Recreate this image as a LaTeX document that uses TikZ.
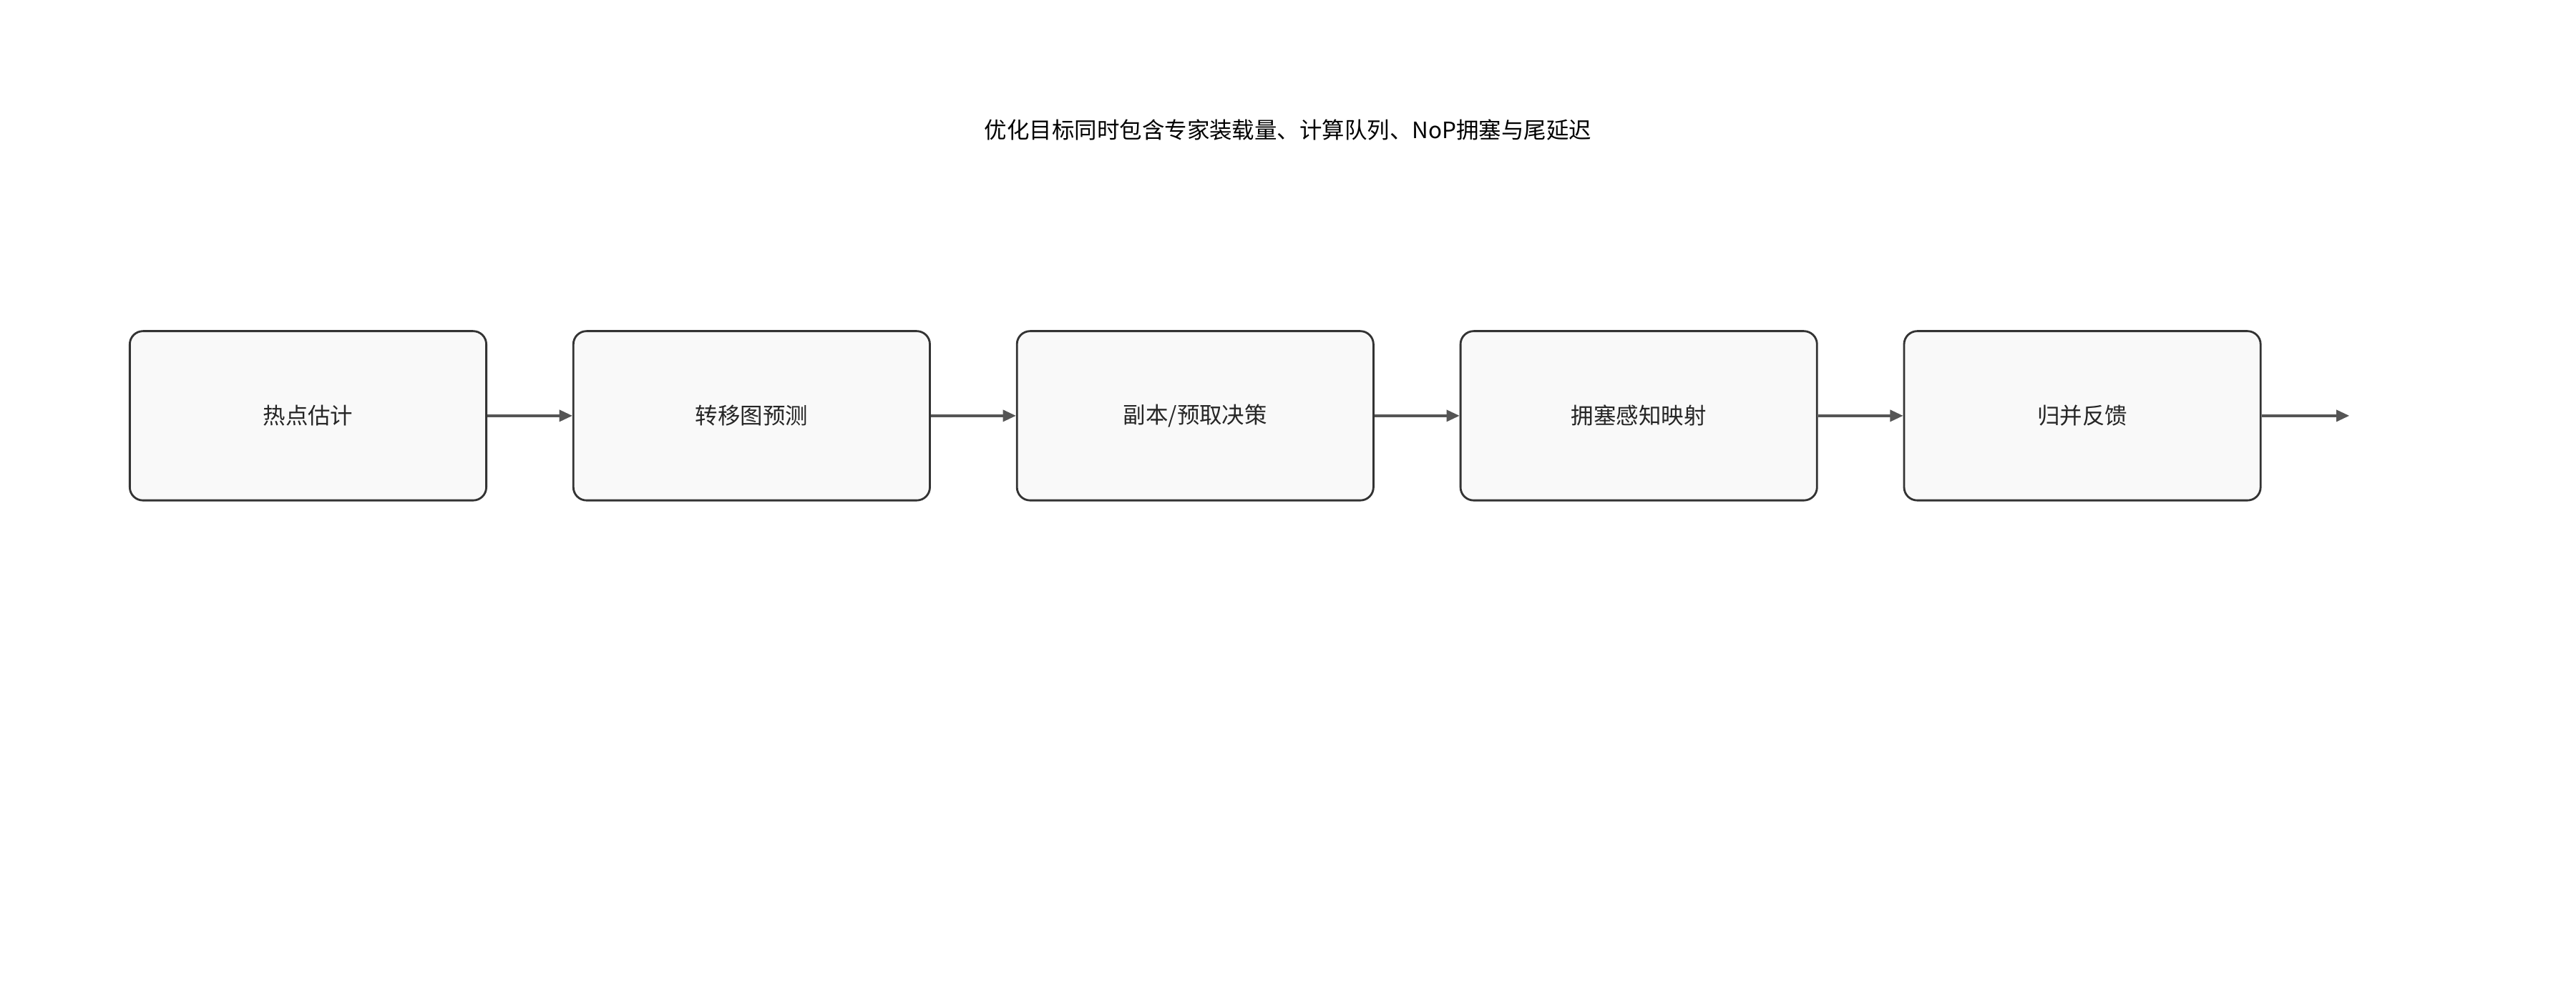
\documentclass[tikz,border=0pt]{standalone}
\usepackage{fontspec}
\setmainfont{Noto Sans CJK SC}
\usetikzlibrary{arrows.meta}
\definecolor{boxfill}{HTML}{F9F9F9}
\definecolor{boxline}{HTML}{333333}
\definecolor{arr}{HTML}{555555}
\begin{document}
\begin{tikzpicture}[x=0.02cm,y=-0.02cm,
  box/.style={draw=boxline,fill=boxfill,line width=0.7pt,rounded corners=0.16cm,minimum width=217*0.02cm,minimum height=103*0.02cm,inner sep=0pt,font=\fontsize{7.8pt}{9pt}\selectfont,text=black!85},
  conn/.style={draw=arr,line width=0.8pt,-{Triangle[length=4.5pt,width=4pt]}}]
\useasboundingbox (0,0) rectangle (1568,609.7);
\node[font=\fontsize{7.8pt}{9pt}\selectfont] (title) at (784,79) {优化目标同时包含专家装载量、计算队列、NoP拥塞与尾延迟};
\node[box] (a) at (187.5,253) {热点估计};
\node[box] (b) at (457.5,253) {转移图预测};
\node[box] (c) at (727.5,253) {副本/预取决策};
\node[box] (d) at (997.5,253) {拥塞感知映射};
\node[box] (e) at (1267.5,253) {归并反馈};
\coordinate (end) at (1430,253);
\draw[conn] (a) -- (b);
\draw[conn] (b) -- (c);
\draw[conn] (c) -- (d);
\draw[conn] (d) -- (e);
\draw[conn] (e) -- (end);
\end{tikzpicture}
\end{document}
